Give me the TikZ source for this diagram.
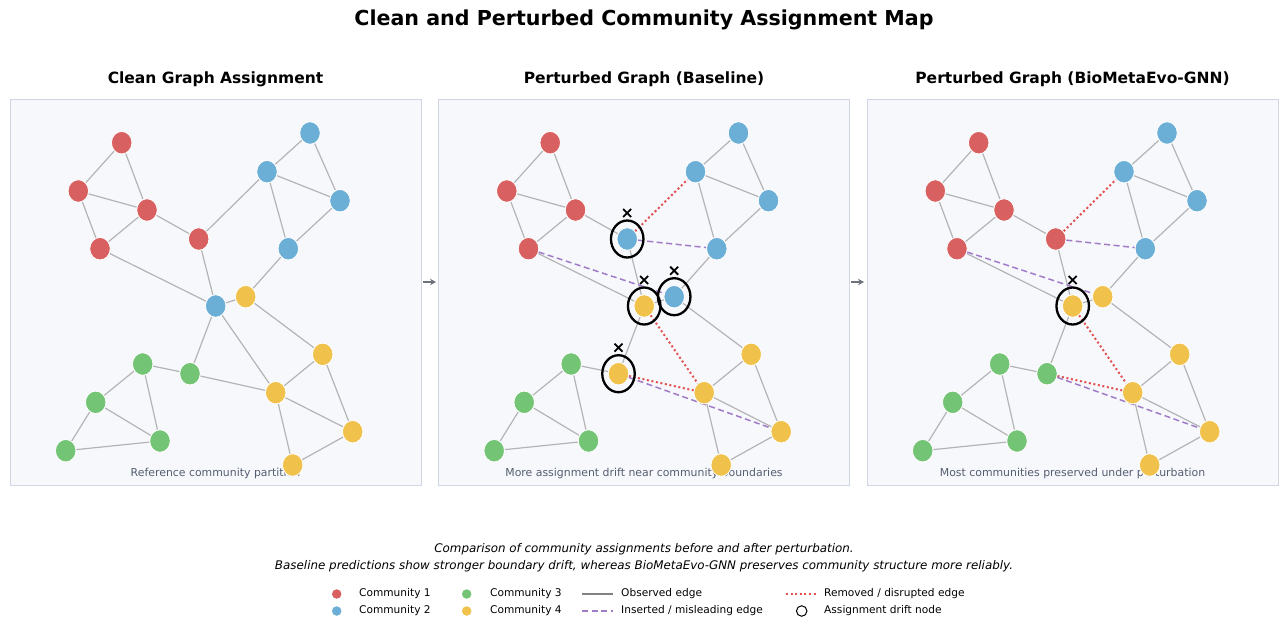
\documentclass[tikz,border=0pt]{standalone}
\usepackage{fontspec}
\setmainfont{DejaVu Sans}
\usetikzlibrary{shapes.geometric,arrows.meta}
\definecolor{cR}{RGB}{217,96,96}
\definecolor{cB}{RGB}{107,174,214}
\definecolor{cG}{RGB}{116,196,118}
\definecolor{cY}{RGB}{240,193,75}
\definecolor{panelbg}{RGB}{247,248,252}
\definecolor{panelbd}{RGB}{208,214,228}
\definecolor{egray}{RGB}{180,180,180}
\definecolor{lgray}{RGB}{130,130,130}
\definecolor{rdot}{RGB}{226,80,80}
\definecolor{purp}{RGB}{160,124,200}
\definecolor{capgray}{RGB}{85,94,112}
\definecolor{arrgray}{RGB}{110,114,124}
\pgfdeclarelayer{bg}
\pgfdeclarelayer{edges}
\pgfsetlayers{bg,edges,main}
\tikzset{
 vtx/.style={ellipse, minimum width=20.5pt, minimum height=22.5pt, inner sep=0pt, draw=white, line width=0.8pt},
 edge/.style={draw=egray, line width=1.2pt},
 removed/.style={draw=rdot, line width=2pt, dash pattern=on 2pt off 2.6pt},
 inserted/.style={draw=purp, line width=1.5pt, dash pattern=on 6pt off 3.5pt},
 drift/.style={ellipse, draw=black, line width=2.3pt, minimum width=32.5pt, minimum height=37pt, inner sep=0pt},
 xm/.pic={\draw[line width=1.8pt, black] (-4,-4) -- (4,4) (-4,4) -- (4,-4);},
 panel/.style={fill=panelbg, draw=panelbd, line width=1pt},
 captxt/.style={font=\fontsize{10.9}{13}\selectfont, text=capgray, inner sep=0pt},
 subtitle/.style={font=\fontsize{15.5}{18}\selectfont\bfseries, inner sep=0pt},
 legtxt/.style={font=\fontsize{10.6}{13}\selectfont, anchor=west, inner sep=0pt},
 legdot/.style={circle, minimum size=9.5pt, inner sep=0pt},
 panarrow/.style={draw=arrgray, line width=2pt, -{Stealth[length=6pt,width=6.5pt]}},
}
\newcommand\graphnodes[4]{%
 \node[vtx,fill=cR] (R1) at (121.7,142.7) {};
 \node[vtx,fill=cR] (R2) at (78.3,191) {};
 \node[vtx,fill=cR] (R3) at (147,210) {};
 \node[vtx,fill=cR] (R4) at (100,248.7) {};
 \node[vtx,fill=#1] (R5) at (198.7,239) {};
 \node[vtx,fill=cB] (B1) at (310,133) {};
 \node[vtx,fill=cB] (B2) at (267,171.7) {};
 \node[vtx,fill=cB] (B3) at (340,200.7) {};
 \node[vtx,fill=cB] (B4) at (288.3,248.7) {};
 \node[vtx,fill=#2] (B5) at (215.7,306) {};
 \node[vtx,fill=#3] (Y1) at (245.7,296.7) {};
 \node[vtx,fill=cY] (Y2) at (322.7,354.3) {};
 \node[vtx,fill=cY] (Y3) at (275.7,392.7) {};
 \node[vtx,fill=cY] (Y4) at (352.7,431.7) {};
 \node[vtx,fill=cY] (Y5) at (292.7,465) {};
 \node[vtx,fill=cG] (G1) at (142.7,364) {};
 \node[vtx,fill=#4] (G2) at (190,373.7) {};
 \node[vtx,fill=cG] (G3) at (95.7,402.3) {};
 \node[vtx,fill=cG] (G4) at (160,441) {};
 \node[vtx,fill=cG] (G5) at (65.7,450.7) {};
}
\newcommand\baseedges{%
 \draw[edge] (R1)--(R2) (R1)--(R3) (R2)--(R3) (R2)--(R4) (R3)--(R4) (R3)--(R5)
  (R5)--(B5) (R4)--(B5) (B1)--(B2) (B1)--(B3) (B2)--(B3) (B2)--(B4) (B3)--(B4)
  (B4)--(Y1) (Y1)--(B5) (Y1)--(Y2) (B5)--(G2) (G1)--(G2) (G1)--(G3) (G1)--(G4)
  (G3)--(G4) (G3)--(G5) (G5)--(G4) (Y3)--(Y2) (Y2)--(Y4) (Y3)--(Y4) (Y3)--(Y5) (Y5)--(Y4);
}
\newcommand\pertedges{%
 \draw[removed] (R5)--(B2) (B5)--(Y3) (G2)--(Y3);
 \draw[inserted] (R5)--(B4) (R4)--(Y1) (G2)--(Y4);
}
\newcommand\panelbox[1]{%
 \draw[panel] (10,99) rectangle (421,485);
 \node[captxt] (cap) at (215.5,473) {#1};
}
\begin{document}
\begin{tikzpicture}[x=1pt,y=-1pt]
\useasboundingbox (0,0) rectangle (1288,625);
\node[font=\fontsize{20.6}{25}\selectfont\bfseries, inner sep=0pt] (title) at (644,19.5) {Clean and Perturbed Community Assignment Map};
\node[subtitle] (st1) at (215.5,79.5) {Clean Graph Assignment};
\node[subtitle] (st2) at (644,79.5) {Perturbed Graph (Baseline)};
\node[subtitle] (st3) at (1072.5,79.5) {Perturbed Graph (BioMetaEvo-GNN)};
% panel 1
\begin{scope}[name prefix=a-]
 \begin{pgfonlayer}{bg}\panelbox{Reference community partition}\end{pgfonlayer}
 \graphnodes{cR}{cB}{cY}{cG}
 \begin{pgfonlayer}{edges}
  \baseedges
  \draw[edge] (R5)--(B2) (B5)--(Y3) (G2)--(Y3);
 \end{pgfonlayer}
\end{scope}
% panel 2
\begin{scope}[xshift=428.5pt, name prefix=b-]
 \begin{pgfonlayer}{bg}\panelbox{More assignment drift near community boundaries}\end{pgfonlayer}
 \graphnodes{cB}{cY}{cB}{cY}
 \begin{pgfonlayer}{edges}
  \baseedges
  \pertedges
 \end{pgfonlayer}
 \node[drift] (dR5) at (R5) {};
 \node[drift] (dB5) at (B5) {};
 \node[drift] (dY1) at (Y1) {};
 \node[drift] (dG2) at (G2) {};
 \pic at ([yshift=26pt]R5.center) {xm};
 \pic at ([yshift=26pt]B5.center) {xm};
 \pic at ([yshift=26pt]Y1.center) {xm};
 \pic at ([yshift=26pt]G2.center) {xm};
\end{scope}
% panel 3
\begin{scope}[xshift=857pt, name prefix=c-]
 \begin{pgfonlayer}{bg}\panelbox{Most communities preserved under perturbation}\end{pgfonlayer}
 \graphnodes{cR}{cY}{cY}{cG}
 \begin{pgfonlayer}{edges}
  \baseedges
  \pertedges
 \end{pgfonlayer}
 \node[drift] (dB5) at (B5) {};
 \pic at ([yshift=26pt]B5.center) {xm};
\end{scope}
% arrows between panels
\coordinate (ar1s) at (423,282);
\coordinate (ar1e) at (436,282);
\coordinate (ar2s) at (851,282);
\coordinate (ar2e) at (864,282);
\draw[panarrow] (ar1s) -- (ar1e);
\draw[panarrow] (ar2s) -- (ar2e);
% caption
\node[font=\fontsize{11.9}{14}\selectfont\itshape, inner sep=0pt] (cap1) at (644,549.5) {Comparison of community assignments before and after perturbation.};
\node[font=\fontsize{11.9}{14}\selectfont\itshape, inner sep=0pt] (cap2) at (644,566.5) {Baseline predictions show stronger boundary drift, whereas BioMetaEvo-GNN preserves community structure more reliably.};
% legend
\node[legdot, fill=cR] (l1) at (336.7,594) {};
\node[legtxt] (l1t) at (359,594) {Community 1};
\node[legdot, fill=cB] (l2) at (336.7,611) {};
\node[legtxt] (l2t) at (359,611) {Community 2};
\node[legdot, fill=cG] (l3) at (466.7,594) {};
\node[legtxt] (l3t) at (490,594) {Community 3};
\node[legdot, fill=cY] (l4) at (466.7,611) {};
\node[legtxt] (l4t) at (490,611) {Community 4};
\draw[draw=lgray, line width=1.5pt] (582,594) -- (613,594);
\node[legtxt] (l5t) at (621,594) {Observed edge};
\draw[inserted] (582,611) -- (613,611);
\node[legtxt] (l6t) at (621,611) {Inserted / misleading edge};
\draw[removed] (786,594) -- (816,594);
\node[legtxt] (l7t) at (824,594) {Removed / disrupted edge};
\node[circle, draw=black, line width=1pt, minimum size=10.5pt, inner sep=0pt] (l8) at (801.7,611) {};
\node[legtxt] (l8t) at (824,611) {Assignment drift node};
\end{tikzpicture}
\end{document}
